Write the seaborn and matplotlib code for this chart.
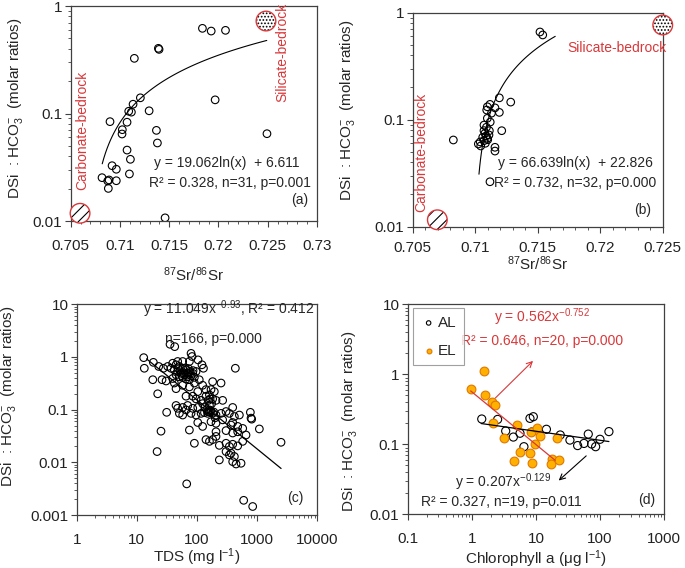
import numpy as np
import pandas as pd
import seaborn as sns
import matplotlib.pyplot as plt
from matplotlib.ticker import LogLocator, NullFormatter, MultipleLocator

sns.set_style("ticks")
plt.rcParams['font.family'] = ['Liberation Sans', 'DejaVu Sans']
plt.rcParams['mathtext.fontset'] = 'custom'
plt.rcParams['mathtext.rm'] = 'Liberation Sans'
plt.rcParams['mathtext.it'] = 'Liberation Sans:italic'
plt.rcParams['mathtext.bf'] = 'Liberation Sans:bold'
plt.rcParams['hatch.linewidth'] = 0.8

# ---- panel (a): 87Sr/86Sr vs DSi:HCO3 ----
sr_a = [0.71837, 0.71926, 0.72071, 0.71390, 0.71397, 0.71146, 0.71207, 0.71966,
        0.71133, 0.71296, 0.71089, 0.71116, 0.70899, 0.71072, 0.71024, 0.71021,
        0.71370, 0.71380, 0.72492, 0.71072, 0.71106, 0.70920, 0.70963, 0.71096,
        0.70818, 0.70963, 0.70876, 0.70889, 0.70882, 0.71458]
ratio_a = [0.62, 0.585, 0.594, 0.404, 0.395, 0.326, 0.140, 0.134,
           0.122, 0.106, 0.105, 0.103, 0.084, 0.083, 0.0707, 0.0645,
           0.0697, 0.0532, 0.0649, 0.0457, 0.0375, 0.0327, 0.0303, 0.0274,
           0.0253, 0.0237, 0.0236, 0.0241, 0.0201, 0.0107]
fit_a = (19.062, 6.611)          # y = a ln(x) + b
fit_a_range = (0.7082, 0.7249)

# ---- panel (b) ----
sr_b = [0.71518, 0.71540, 0.71193, 0.71284, 0.71097, 0.71118, 0.71158, 0.71092,
        0.71193, 0.71097, 0.71070, 0.71212, 0.71113, 0.71078, 0.71086, 0.71060,
        0.71097, 0.71070, 0.71025, 0.71044, 0.71081, 0.70825, 0.71158, 0.71158,
        0.71118, 0.71120, 0.71090, 0.71110, 0.71040, 0.71100, 0.71130, 0.71070]
ratio_b = [0.66, 0.619, 0.160, 0.146, 0.132, 0.139, 0.129, 0.123,
           0.117, 0.103, 0.089, 0.0789, 0.0789, 0.0746, 0.0704, 0.0685,
           0.067, 0.0636, 0.0593, 0.0568, 0.0602, 0.0646, 0.0552, 0.0509,
           0.0263, 0.095, 0.085, 0.072, 0.062, 0.065, 0.115, 0.079]
fit_b = (66.639, 22.826)
fit_b_range = (0.7103, 0.7164)

# end-members (x, y)
carb_a = (0.70595, 0.0118)
sil_a = (0.72482, 0.725)
carb_b = (0.70697, 0.0116)
sil_b = (0.72500, 0.767)

# ---- panel (c): TDS ----
tds = [35.6, 42.6, 13.0, 18.8, 79.6, 82.7, 104, 74.7, 57.8, 47.7, 39.4, 121, 128,
       44.8, 50.9, 57.8, 65.7, 74.7, 84.9, 42.0, 47.7, 54.3, 61.7, 70.0, 79.6, 90.4,
       96.4, 37.0, 44.8, 50.9, 57.8, 65.7, 74.7, 39.4, 32.6, 27.6, 23.1, 13.3, 434,
       18.4, 26.2, 30.6, 42.0, 44.8, 57.8, 74.7, 90.4, 109, 124, 182, 251, 141, 171,
       194, 103, 84.9, 65.7,
       22.2, 96.4, 117, 141, 161, 182, 207, 267, 161, 124, 103, 84.9, 70.0, 57.8,
       47.7, 44.8, 392,
       31.3, 50.9, 57.8, 65.7, 79.6, 96.4, 117, 133, 151, 161, 182, 207, 251, 304,
       345, 418, 506, 771, 791, 811,
       103, 124, 171, 207, 267, 368, 392, 475, 575, 1088, 74.7, 207, 304, 392, 475,
       25.2, 90.4, 141, 161, 207, 235, 304, 345, 392, 475, 575, 653, 2495, 182,
       21.7, 304, 368, 418, 235, 392, 446, 540, 345,
       67.4, 597, 843,
       52, 60, 68, 72, 78, 86, 64, 56, 48, 70,
       150, 160, 170, 155, 165, 175, 190, 145, 135, 200]
ratio_c = [1.74, 1.57, 0.97, 0.79, 1.17, 1.02, 0.88, 0.82, 0.82, 0.82, 0.76, 0.71, 0.61,
           0.71, 0.66, 0.61, 0.57, 0.53, 0.49, 0.57, 0.53, 0.49, 0.46, 0.49, 0.44, 0.41,
           0.53, 0.61, 0.46, 0.42, 0.41, 0.38, 0.37, 0.39, 0.66, 0.61, 0.66, 0.61, 0.61,
           0.37, 0.37, 0.35, 0.32, 0.25, 0.29, 0.27, 0.32, 0.37, 0.29, 0.34, 0.32, 0.24, 0.24,
           0.22, 0.22, 0.18, 0.18,
           0.20, 0.16, 0.15, 0.18, 0.19, 0.16, 0.15, 0.15, 0.12, 0.13, 0.11, 0.106, 0.12, 0.11,
           0.106, 0.12, 0.11,
           0.089, 0.085, 0.079, 0.099, 0.085, 0.079, 0.085, 0.088, 0.092, 0.099, 0.085, 0.079,
           0.085, 0.092, 0.085, 0.074, 0.079, 0.089, 0.069, 0.066,
           0.057, 0.048, 0.059, 0.055, 0.064, 0.051, 0.057, 0.048, 0.044, 0.043, 0.041, 0.038,
           0.040, 0.036, 0.038,
           0.039, 0.023, 0.027, 0.025, 0.031, 0.021, 0.023, 0.020, 0.022, 0.0205, 0.025, 0.033,
           0.024, 0.027,
           0.016, 0.016, 0.0149, 0.0129, 0.0111, 0.0103, 0.0093, 0.0096, 0.0138,
           0.0039, 0.0019, 0.00145,
           0.55, 0.50, 0.45, 0.60, 0.50, 0.55, 0.62, 0.44, 0.62, 0.42,
           0.085, 0.09, 0.095, 0.15, 0.16, 0.13, 0.09, 0.10, 0.11, 0.07]
fit_c = (11.049, -0.93)          # y = a x^b
fit_c_range = (14.5, 2500)

# ---- panel (d): chlorophyll a ----
chl_al = [1.43, 2.53, 3.38, 4.45, 5.65, 6.51, 8.09, 9.12, 14.6, 24.0, 34.0, 44.8,
          56.3, 65.7, 74.1, 85.6, 100, 138, 8.6]
ratio_al = [0.23, 0.227, 0.155, 0.127, 0.144, 0.0925, 0.235, 0.248, 0.164, 0.136, 0.115,
            0.096, 0.103, 0.140, 0.101, 0.0925, 0.118, 0.152, 0.15]
chl_el = [0.96, 1.53, 1.61, 2.04, 2.30, 2.17, 3.21, 5.07, 5.71, 4.50, 8.09, 8.59,
          8.39, 9.57, 10.5, 11.7, 21.6, 17.6, 17.2, 23.2]
ratio_el = [0.61, 1.11, 0.50, 0.40, 0.37, 0.20, 0.122, 0.189, 0.0786, 0.0578, 0.076,
            0.0547, 0.148, 0.100, 0.169, 0.131, 0.122, 0.0624, 0.0518, 0.0597]
fit_al = (0.207, -0.129)
fit_al_range = (1.4, 138)
fit_el = (0.562, -0.752)
fit_el_range = (0.96, 20)

RED = "#d9383a"
ORANGE = "#ffb000"
SPINE = "#404040"
ylab = r"DSi  : HCO$_3^{-}$  (molar ratios)"

fig = plt.figure(figsize=(6.85, 5.68), dpi=100)
ax_a = fig.add_axes([0.1032, 0.6109, 0.3596, 0.3785])
ax_b = fig.add_axes([0.6025, 0.6009, 0.3650, 0.3768])
ax_c = fig.add_axes([0.1120, 0.0933, 0.3512, 0.3710])
ax_d = fig.add_axes([0.5952, 0.0945, 0.3742, 0.3697])


def style_axes(ax):
    for s in ax.spines.values():
        s.set_color(SPINE)
        s.set_linewidth(0.9)
    ax.tick_params(which='both', direction='out', top=False, right=False,
                   color=SPINE, labelsize=11, labelcolor='#222222')
    ax.tick_params(which='major', length=4, width=0.8)
    ax.tick_params(which='minor', length=2.5, width=0.6)
    ax.tick_params(axis='x', pad=9)
    ax.tick_params(axis='y', pad=2)


def log_y(ax, ticks, labels):
    ax.set_yscale('log')
    ax.set_yticks(ticks)
    ax.set_yticklabels(labels)
    ax.yaxis.set_minor_locator(LogLocator(base=10, subs=np.arange(2, 10)))
    ax.yaxis.set_minor_formatter(NullFormatter())


def log_x(ax, ticks, labels):
    ax.set_xscale('log')
    ax.set_xticks(ticks)
    ax.set_xticklabels(labels)
    ax.xaxis.set_minor_locator(LogLocator(base=10, subs=np.arange(2, 10)))
    ax.xaxis.set_minor_formatter(NullFormatter())


def hollow(ax, x, y, s=30):
    sns.scatterplot(x=x, y=y, ax=ax, marker='o', s=s, facecolor='none',
                    edgecolor='black', linewidth=0.8, zorder=3)


def end_member(ax, pt, hatch):
    sns.scatterplot(x=[pt[0]], y=[pt[1]], ax=ax, marker='o', s=200, facecolor='white',
                    edgecolor='black', linewidth=0, hatch=hatch, clip_on=False, zorder=4)
    sns.scatterplot(x=[pt[0]], y=[pt[1]], ax=ax, marker='o', s=200, facecolor='none',
                    edgecolor=RED, linewidth=1.0, clip_on=False, zorder=5)


def log_fit_line(ax, coef, rng):
    xs = np.linspace(rng[0], rng[1], 100)
    df = pd.DataFrame({'x': xs, 'y': coef[0] * np.log(xs) + coef[1]})
    sns.lineplot(data=df, x='x', y='y', ax=ax, color='black', linewidth=0.8, zorder=4)


def pow_fit_line(ax, coef, rng, color='black'):
    xs = np.geomspace(rng[0], rng[1], 100)
    df = pd.DataFrame({'x': xs, 'y': coef[0] * xs ** coef[1]})
    sns.lineplot(data=df, x='x', y='y', ax=ax, color=color, linewidth=0.9, zorder=4)


# ---------- (a) ----------
ax = ax_a
style_axes(ax)
log_y(ax, [0.01, 0.1, 1], ['0.01', '0.1', '1'])
hollow(ax, sr_a, ratio_a)
log_fit_line(ax, fit_a, fit_a_range)
end_member(ax, carb_a, '///')
end_member(ax, sil_a, '.....')
ax.set_xlim(0.705, 0.73)
ax.set_ylim(0.01, 1)
ax.set_xticks([0.705, 0.71, 0.715, 0.72, 0.725, 0.73])
ax.set_xticklabels(['0.705', '0.71', '0.715', '0.72', '0.725', '0.73'])
ax.xaxis.set_minor_locator(MultipleLocator(0.001))
ax.set_xlabel(r"$^{87}$Sr/$^{86}$Sr", fontsize=11)
ax.set_ylabel(ylab, fontsize=11)
ax.xaxis.set_label_coords(0.5, -0.205)
ax.yaxis.set_label_coords(-0.1835, 0.526)
ax.text(0.048, 0.144, "Carbonate-bedrock", rotation=90, color=RED, fontsize=10,
        ha='center', va='bottom', transform=ax.transAxes)
ax.text(0.861, 0.553, "Silicate-bedrock", rotation=90, color=RED, fontsize=10,
        ha='center', va='bottom', transform=ax.transAxes)
ax.text(0.633, 0.268, "y = 19.062ln(x)  + 6.611", fontsize=10, ha='center', va='center',
        transform=ax.transAxes)
ax.text(0.647, 0.178, "R² = 0.328, n=31, p=0.001", fontsize=10, ha='center', va='center',
        transform=ax.transAxes)
ax.text(0.931, 0.098, "(a)", fontsize=10, ha='center', va='center', transform=ax.transAxes)

# ---------- (b) ----------
ax = ax_b
style_axes(ax)
log_y(ax, [0.01, 0.1, 1], ['0.01', '0.1', '1'])
hollow(ax, sr_b, ratio_b)
log_fit_line(ax, fit_b, fit_b_range)
end_member(ax, carb_b, '///')
end_member(ax, sil_b, '.....')
ax.set_xlim(0.705, 0.725)
ax.set_ylim(0.01, 1)
ax.set_xticks([0.705, 0.71, 0.715, 0.72, 0.725])
ax.set_xticklabels(['0.705', '0.71', '0.715', '0.72', '0.725'])
ax.xaxis.set_minor_locator(MultipleLocator(0.001))
ax.tick_params(axis='x', pad=6)
ax.set_xlabel(r"$^{87}$Sr/$^{86}$Sr", fontsize=11)
ax.set_ylabel(ylab, fontsize=11)
ax.xaxis.set_label_coords(0.5, -0.128)
ax.yaxis.set_label_coords(-0.221, 0.545)
ax.text(0.036, 0.070, "Carbonate-bedrock", rotation=90, color=RED, fontsize=10,
        ha='center', va='bottom', transform=ax.transAxes)
ax.text(0.816, 0.834, "Silicate-bedrock", color=RED, fontsize=10,
        ha='center', va='center', transform=ax.transAxes)
ax.text(0.649, 0.299, "y = 66.639ln(x)  + 22.826", fontsize=10, ha='center', va='center',
        transform=ax.transAxes)
ax.text(0.649, 0.203, "R² = 0.732, n=32, p=0.000", fontsize=10, ha='center', va='center',
        transform=ax.transAxes)
ax.text(0.918, 0.078, "(b)", fontsize=10, ha='center', va='center', transform=ax.transAxes)

# ---------- (c) ----------
ax = ax_c
style_axes(ax)
hollow(ax, tds, ratio_c)
pow_fit_line(ax, fit_c, fit_c_range)
log_x(ax, [1, 10, 100, 1000, 10000], ['1', '10', '100', '1000', '10000'])
log_y(ax, [0.001, 0.01, 0.1, 1, 10], ['0.001', '0.01', '0.1', '1', '10'])
ax.set_xlim(1, 10000)
ax.set_ylim(0.001, 10)
ax.set_xlabel(r"TDS (mg l$^{-1}$)", fontsize=11)
ax.set_ylabel(ylab, fontsize=11)
ax.xaxis.set_label_coords(0.5, -0.147)
ax.yaxis.set_label_coords(-0.244, 0.562)
ax.text(0.99, 0.978, r"y = 11.049x$^{-0.93}$, R² = 0.412", fontsize=10, ha='right',
        va='center', transform=ax.transAxes)
ax.text(0.568, 0.834, "n=166, p=0.000", fontsize=10, ha='center', va='center',
        transform=ax.transAxes)
ax.text(0.907, 0.079, "(c)", fontsize=10, ha='center', va='center', transform=ax.transAxes)

# ---------- (d) ----------
ax = ax_d
style_axes(ax)
sns.scatterplot(x=chl_al, y=ratio_al, ax=ax, marker='o', s=34, facecolor='none',
                edgecolor='black', linewidth=0.8, zorder=3, label='AL')
sns.scatterplot(x=chl_el, y=ratio_el, ax=ax, marker='o', s=40, facecolor=ORANGE,
                edgecolor='#e07800', linewidth=0.8, zorder=3, label='EL')
pow_fit_line(ax, fit_al, fit_al_range, color='black')
pow_fit_line(ax, fit_el, fit_el_range, color=RED)
log_x(ax, [0.1, 1, 10, 100, 1000], ['0.1', '1', '10', '100', '1000'])
log_y(ax, [0.01, 0.1, 1, 10], ['0.01', '0.1', '1', '10'])
ax.set_xlim(0.1, 1000)
ax.set_ylim(0.01, 10)
ax.annotate('', xy=(9.69, 1.66), xytext=(2.17, 0.43),
            arrowprops=dict(arrowstyle='->', color=RED, lw=0.8))
ax.annotate('', xy=(21.1, 0.0286), xytext=(65.7, 0.0727),
            arrowprops=dict(arrowstyle='->', color='black', lw=0.8))
ax.set_xlabel(r"Chlorophyll a (μg l$^{-1}$)", fontsize=11)
ax.set_ylabel(ylab, fontsize=11)
ax.xaxis.set_label_coords(0.5, -0.160)
ax.yaxis.set_label_coords(-0.189, 0.442)
ax.text(0.523, 0.941, r"y = 0.562x$^{-0.752}$", color=RED, fontsize=10, ha='center',
        va='center', transform=ax.transAxes)
ax.text(0.525, 0.827, "R² = 0.646, n=20, p=0.000", color=RED, fontsize=10, ha='center',
        va='center', transform=ax.transAxes)
ax.text(0.373, 0.155, r"y = 0.207x$^{-0.129}$", fontsize=10, ha='center', va='center',
        transform=ax.transAxes)
ax.text(0.367, 0.060, "R² = 0.327, n=19, p=0.011", fontsize=10, ha='center', va='center',
        transform=ax.transAxes)
ax.text(0.933, 0.068, "(d)", fontsize=10, ha='center', va='center', transform=ax.transAxes)
leg = ax.legend(loc='upper left', bbox_to_anchor=(0.022, 0.981), borderaxespad=0,
                fontsize=11, frameon=True, fancybox=False, markerscale=0.55,
                handletextpad=0.1, handlelength=1.0, labelspacing=0.9,
                borderpad=0.5)
leg.get_frame().set_edgecolor('#888888')
leg.get_frame().set_linewidth(0.8)

fig.savefig("out.png", dpi=100)
